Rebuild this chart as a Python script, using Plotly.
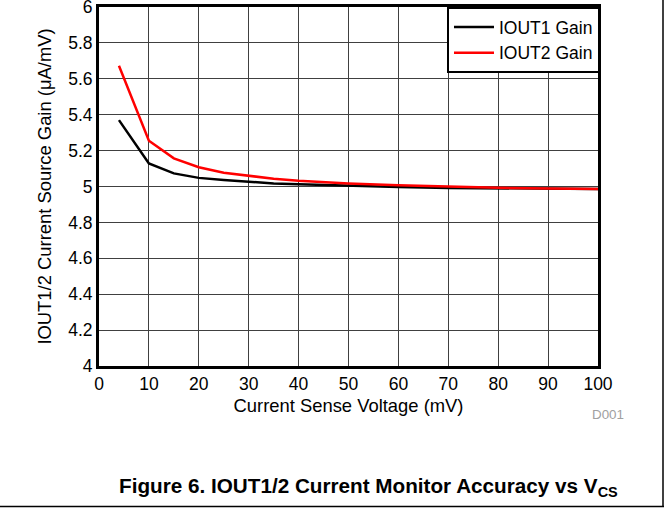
import plotly.graph_objects as go

x_mv = [4, 10, 15, 20, 25, 30, 35, 40, 50, 60, 70, 80, 90, 100]
iout1_gain = [5.37, 5.128, 5.073, 5.048, 5.036, 5.025, 5.017, 5.012, 5.003, 4.997, 4.992, 4.989, 4.987, 4.986]
iout2_gain = [5.673, 5.255, 5.157, 5.107, 5.077, 5.058, 5.043, 5.032, 5.017, 5.007, 4.999, 4.993, 4.989, 4.986]

font = "Liberation Sans, Arial, sans-serif"

fig = go.Figure()
fig.add_trace(go.Scatter(x=x_mv, y=iout1_gain, mode="lines", name="IOUT1 Gain",
                         line=dict(color="black", width=2.5)))
fig.add_trace(go.Scatter(x=x_mv, y=iout2_gain, mode="lines", name="IOUT2 Gain",
                         line=dict(color="#ff0000", width=2.5)))

W, H = 669, 508
L, R, T, B = 99, 71, 7, 142
pw, ph = W - L - R, H - T - B

def px(xp):
    return (xp - L) / pw

def py(yp):
    return (H - B - yp) / ph

fig.update_layout(
    width=W, height=H,
    margin=dict(l=L, r=R, t=T, b=B, autoexpand=False),
    paper_bgcolor="white", plot_bgcolor="white",
    font=dict(family=font, size=17.5, color="black"),
    showlegend=True,
    legend=dict(x=1.004, y=1.0, xanchor="right", yanchor="top",
                bgcolor="white", bordercolor="black", borderwidth=2,
                font=dict(size=17.5, family=font), tracegroupgap=0,
                itemwidth=40),
    xaxis=dict(range=[0, 100], tick0=0, dtick=10, showgrid=True, automargin=False,
               gridcolor="#404040", gridwidth=1, showline=True, linecolor="black",
               linewidth=3, mirror=True, ticks="", zeroline=False,
               tickfont=dict(size=17.5), ticklabeloverflow="allow",
               title=dict(text="Current Sense Voltage (mV)", font=dict(size=18.4), standoff=7)),
    yaxis=dict(range=[4, 6], tick0=4, dtick=0.2, showgrid=True, automargin=False,
               gridcolor="#404040", gridwidth=1, showline=True, linecolor="black",
               linewidth=3, mirror=True, ticks="", zeroline=False,
               tickfont=dict(size=17.5), tickformat="~g", ticklabeloverflow="allow",
               title=dict(text="IOUT1/2 Current Source Gain (μA/mV)", font=dict(size=18.4), standoff=12)),
)

fig.add_annotation(text="D001", xref="paper", yref="paper", x=px(626), y=py(414),
                   xanchor="right", yanchor="middle", showarrow=False,
                   font=dict(size=13.4, color="#a0a0a0", family=font))
fig.add_annotation(text="<b>Figure 6. IOUT1/2 Current Monitor Accuracy vs V<sub>CS</sub></b>",
                   xref="paper", yref="paper", x=px(368), y=py(487),
                   xanchor="center", yanchor="middle", showarrow=False,
                   font=dict(size=20.7, color="black", family=font))

fig.add_shape(type="line", xref="paper", yref="paper", x0=px(663), x1=px(663),
              y0=py(0), y1=py(507), line=dict(color="black", width=1.5))
fig.add_shape(type="line", xref="paper", yref="paper", x0=px(0), x1=px(664),
              y0=py(506.5), y1=py(506.5), line=dict(color="black", width=1.5))

fig.write_html("out.html", config={"displayModeBar": False},
               post_script="document.body.style.margin='0';")
